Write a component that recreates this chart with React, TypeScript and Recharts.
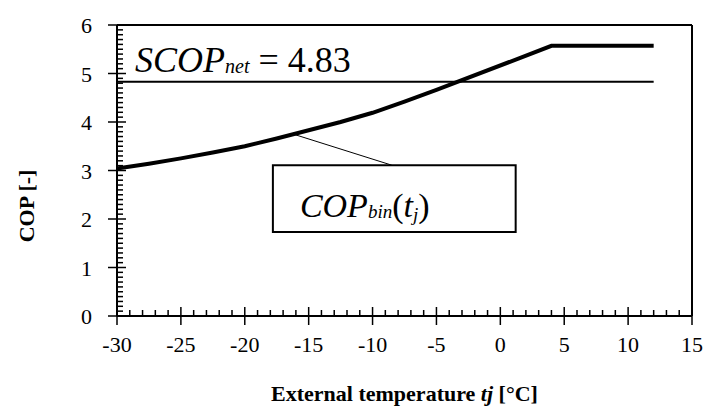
import * as React from 'react';
import {
  LineChart,
  Line,
  XAxis,
  YAxis,
  ReferenceLine,
  ReferenceArea,
  ReferenceDot,
} from 'recharts';

// external temperature t_j [°C] and COP_bin
const temps = [-30, -27.5, -25, -22.5, -20, -17.5, -15, -12.5, -10, -7.5, -5, 4, 12];
const copValues = [3.04, 3.14, 3.25, 3.37, 3.5, 3.66, 3.83, 4.0, 4.19, 4.42, 4.66, 5.57, 5.57];

// seasonal COP line
const scopTemps = [-30, 12];
const scopValue = 4.83;

// pointer from the curve to the label box
const pointerFrom = { t: -16.2, cop: 3.75 };
const pointerTo = { t: -8.5, cop: 3.11 };
const labelBox = { t1: -17.8, t2: 1.2, cop1: 1.73, cop2: 3.11 };

const xTicks: number[] = [];
for (let t = -30; t <= 15; t++) xTicks.push(t);
const yTicks: number[] = [];
for (let i = 0; i <= 60; i++) yTicks.push(i / 10);

const copData = temps.map((t, i) => ({ t, cop: copValues[i] }));
const scopData = scopTemps.map((t) => ({ t, cop: scopValue }));

const FONT = 'Liberation Serif';
const isMajor = (v: number, step: number) =>
  Math.abs(v / step - Math.round(v / step)) < 1e-6;

const tickStroke = { stroke: '#000', strokeWidth: 1.5 };

const BottomTick = ({ x, y, payload }: any) => {
  const v = payload.value;
  if (!isMajor(v, 5)) return <line x1={x} x2={x} y1={y} y2={y - 6} {...tickStroke} />;
  return (
    <g>
      <line x1={x} x2={x} y1={y - 9} y2={y + 9} {...tickStroke} />
      <text x={x} y={y + 36} textAnchor="middle" fontFamily={FONT} fontSize={22} fill="#000">
        {v}
      </text>
    </g>
  );
};

const TopTick = ({ x, y, payload }: any) => {
  const v = payload.value;
  if (!isMajor(v, 5)) return <line x1={x} x2={x} y1={y} y2={y + 6} {...tickStroke} />;
  return <line x1={x} x2={x} y1={y - 9} y2={y + 9} {...tickStroke} />;
};

const LeftTick = ({ x, y, payload }: any) => {
  const v = payload.value;
  if (!isMajor(v, 1)) return <line x1={x} x2={x + 6} y1={y} y2={y} {...tickStroke} />;
  return (
    <g>
      <line x1={x - 9} x2={x + 9} y1={y} y2={y} {...tickStroke} />
      <text x={x - 25} y={y + 8} textAnchor="end" fontFamily={FONT} fontSize={22} fill="#000">
        {Math.round(v)}
      </text>
    </g>
  );
};

const RightTick = ({ x, y, payload }: any) => {
  const v = payload.value;
  if (!isMajor(v, 1)) return <line x1={x} x2={x - 6} y1={y} y2={y} {...tickStroke} />;
  return <line x1={x - 9} x2={x + 9} y1={y} y2={y} {...tickStroke} />;
};

const XTitle = ({ viewBox }: any) => (
  <text
    x={viewBox.x + viewBox.width / 2}
    y={401}
    textAnchor="middle"
    fontFamily={FONT}
    fontSize={22}
    fontWeight="bold"
    fill="#000"
  >
    External temperature <tspan fontStyle="italic">tj</tspan> [°C]
  </text>
);

const YTitle = () => (
  <text
    x={34}
    y={206}
    transform="rotate(-90 34 206)"
    textAnchor="middle"
    fontFamily={FONT}
    fontSize={22}
    fontWeight="bold"
    fill="#000"
  >
    COP [-]
  </text>
);

const ScopLabel = ({ viewBox }: any) => (
  <text x={viewBox.x + 18} y={viewBox.y - 10} fontFamily={FONT} fontSize={36} fill="#000">
    <tspan fontStyle="italic">SCOP</tspan>
    <tspan fontStyle="italic" fontSize={20} dy={1}>net</tspan>
    <tspan dy={-1}> = 4.83</tspan>
  </text>
);

const BoxLabel = ({ viewBox }: any) => (
  <text x={viewBox.x + 27} y={viewBox.y + 52} fontFamily={FONT} fontSize={34} fill="#000">
    <tspan fontStyle="italic">COP</tspan>
    <tspan fontStyle="italic" fontSize={19} dy={1}>bin</tspan>
    <tspan dy={-1}>(</tspan>
    <tspan fontStyle="italic">t</tspan>
    <tspan fontStyle="italic" fontSize={19} dy={4}>j</tspan>
    <tspan dy={-4}>)</tspan>
  </text>
);

const axisLine = { stroke: '#000', strokeWidth: 2 };

export default function App() {
  return (
    <div style={{ position: 'absolute', left: 0, top: 0 }}>
      <LineChart width={706} height={410} margin={{ top: 0, right: 0, bottom: 0, left: 0 }}>
        <XAxis
          xAxisId="bottom"
          dataKey="t"
          type="number"
          domain={[-30, 15]}
          ticks={xTicks}
          interval={0}
          height={94}
          axisLine={axisLine}
          tickLine={false}
          tickSize={0}
          tickMargin={0}
          tick={<BottomTick />}
          label={<XTitleWrap />}
        />
        <XAxis
          xAxisId="top"
          orientation="top"
          dataKey="t"
          type="number"
          domain={[-30, 15]}
          ticks={xTicks}
          interval={0}
          height={25}
          axisLine={axisLine}
          tickLine={false}
          tickSize={0}
          tickMargin={0}
          tick={<TopTick />}
        />
        <YAxis
          yAxisId="left"
          type="number"
          domain={[0, 6]}
          ticks={yTicks}
          interval={0}
          width={117}
          axisLine={axisLine}
          tickLine={false}
          tickSize={0}
          tickMargin={0}
          tick={<LeftTick />}
          label={<YTitle />}
        />
        <YAxis
          yAxisId="right"
          orientation="right"
          type="number"
          domain={[0, 6]}
          ticks={yTicks}
          interval={0}
          width={14}
          axisLine={axisLine}
          tickLine={false}
          tickSize={0}
          tickMargin={0}
          tick={<RightTick />}
        />
        <ReferenceLine
          xAxisId="bottom"
          yAxisId="left"
          segment={[
            { x: pointerFrom.t, y: pointerFrom.cop },
            { x: pointerTo.t, y: pointerTo.cop },
          ]}
          stroke="#000"
          strokeWidth={1}
        />
        <Line
          xAxisId="bottom"
          yAxisId="left"
          data={scopData}
          dataKey="cop"
          stroke="#000"
          strokeWidth={2}
          dot={false}
          isAnimationActive={false}
        />
        <Line
          xAxisId="bottom"
          yAxisId="left"
          data={copData}
          dataKey="cop"
          stroke="#000"
          strokeWidth={4}
          dot={false}
          isAnimationActive={false}
        />
        <ReferenceArea
          xAxisId="bottom"
          yAxisId="left"
          x1={labelBox.t1}
          x2={labelBox.t2}
          y1={labelBox.cop1}
          y2={labelBox.cop2}
          fill="#fff"
          fillOpacity={1}
          stroke="#000"
          strokeWidth={2}
          label={<BoxLabel />}
        />
        <ReferenceDot
          xAxisId="bottom"
          yAxisId="left"
          x={scopTemps[0]}
          y={scopValue}
          r={0}
          fill="none"
          stroke="none"
          label={<ScopLabel />}
        />
      </LineChart>
    </div>
  );
}

function XTitleWrap(props: any) {
  return <XTitle {...props} />;
}
